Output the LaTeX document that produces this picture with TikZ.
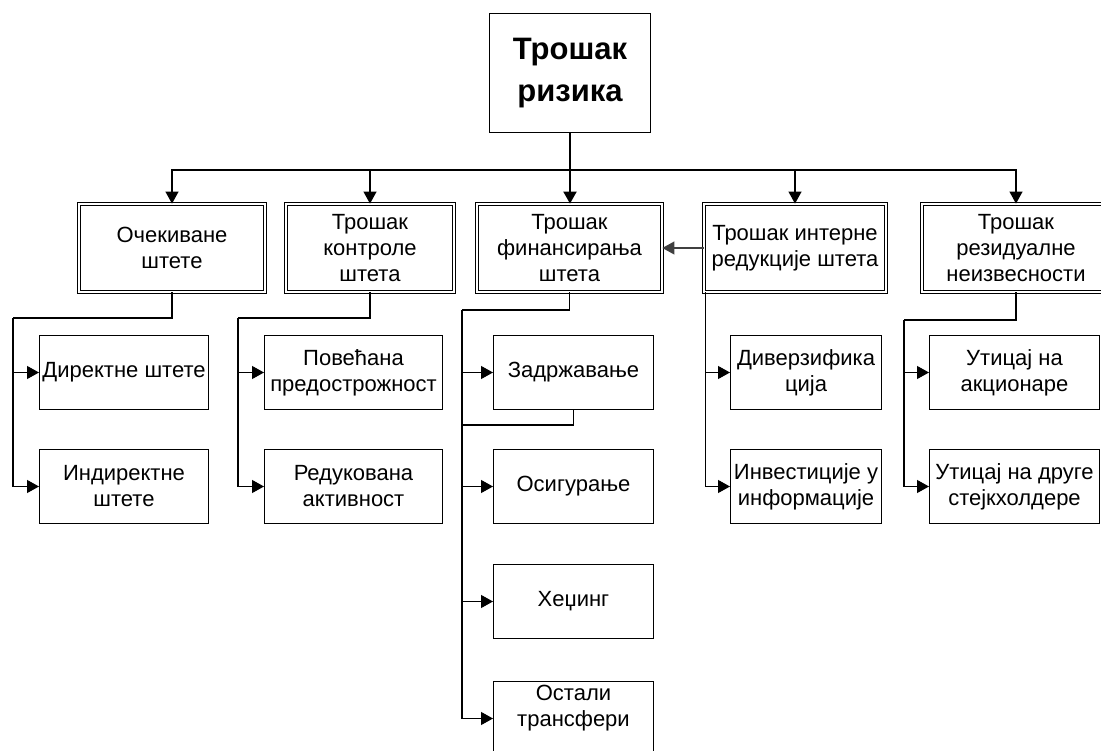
\documentclass[tikz,border=0pt]{standalone}
\usepackage{fontspec}
\setmainfont{Liberation Sans}
\usetikzlibrary{calc,arrows.meta}

\tikzset{
  box/.style={draw,line width=1.2pt,align=center,inner sep=1pt,
    font=\fontsize{22}{26}\selectfont,minimum height=73.8pt},
  dbox/.style={draw,double,line width=1.2pt,double distance=2pt,align=center,
    inner sep=1pt,font=\fontsize{22}{26}\selectfont,minimum height=87.6pt},
  topbox/.style={draw,line width=1.2pt,align=center,
    font=\fontsize{31}{42}\selectfont\bfseries,minimum width=160.8pt,minimum height=118.8pt},
  arr/.style={-{Triangle[length=12pt,width=13pt]},line width=1.1pt},
  link/.style={line width=1.1pt}
}

\begin{document}
\begin{tikzpicture}[x=1pt,y=-1pt]
\useasboundingbox (0,0) rectangle (1101,751);
\clip (0,0) rectangle (1101,751);
\node[topbox] (risk) at (570,73) {Трошак\\ризика};
% second level
\node[dbox,minimum width=185.6pt] (exp) at (172,248) {Очекиване\\штете};
\node[dbox,minimum width=167.6pt] (ctrl) at (370,248) {Трошак\\контроле\\штета};
\node[dbox,minimum width=184.6pt] (fin) at (569.5,248) {Трошак\\финансирања\\штета};
\node[dbox,minimum width=181.6pt] (intr) at (795,248) {Трошак интерне\\редукције штета};
\node[dbox,minimum width=187.6pt] (res) at (1016,248) {Трошак\\резидуалне\\неизвесности};
% third level
\node[box,minimum width=168.8pt] (dir) at (124,372.5) {Директне штете};
\node[box,minimum width=168.8pt] (indir) at (124,486.5) {Индиректне\\штете};
\node[box,minimum width=177.8pt] (care) at (353.5,372.5) {Повећана\\предострожност};
\node[box,minimum width=177.8pt] (act) at (353.5,486.5) {Редукована\\активност};
\node[box,minimum width=159.8pt] (ret) at (573.5,372.5) {Задржавање};
\node[box,minimum width=159.8pt] (ins) at (573.5,486.5) {Осигурање};
\node[box,minimum width=159.8pt] (hedge) at (573.5,601.5) {Хеџинг};
\node[box,minimum width=159.8pt,inner ysep=0pt] (trans) at (573.5,718.5) {Остали\\трансфери\\\mbox{}};
\node[box,minimum width=150.8pt,inner xsep=0pt] (div) at (806,372.5) {Диверзифика\\ција};
\node[box,minimum width=150.8pt,inner xsep=0pt] (info) at (806,486.5) {Инвестиције у\\информације};
\node[box,minimum width=169.8pt] (share) at (1014.5,372.5) {Утицај на\\акционаре};
\node[box,minimum width=169.8pt] (stake) at (1014.5,486.5) {Утицај на друге\\стејкхолдере};

\coordinate (bus) at (0,170);
\draw[arr,line width=2pt] (risk.south) -- (risk.south |- fin.north);
\foreach \n in {exp,ctrl,intr,res}
  \draw[arr] (risk.south) |- (bus -| \n.north) -- (\n.north);
\draw[arr,black!75] (intr.west) -- (fin.east);

% branches
\coordinate (t1) at (13,318);
\coordinate (t2) at (238,318);
\coordinate (t3) at (462,310);
\coordinate (t4) at ($(intr.south west)+(2,0)$);
\coordinate (t5) at (904,320);
\draw[link] (exp.south) |- (t1);
\draw[link] (ctrl.south) |- (t2);
\draw[link] (fin.south) |- (t3);
\draw[link] (res.south) |- (t5);
\foreach \a/\b in {t1/dir,t1/indir,t2/care,t2/act,t3/ret,t3/ins,t3/hedge,t3/trans,t4/div,t4/info,t5/share,t5/stake}
  \draw[arr] (\a) |- (\b.west);
\draw[link] (ret.south) |- ($(t3)+(0,115)$);
\end{tikzpicture}
\end{document}
